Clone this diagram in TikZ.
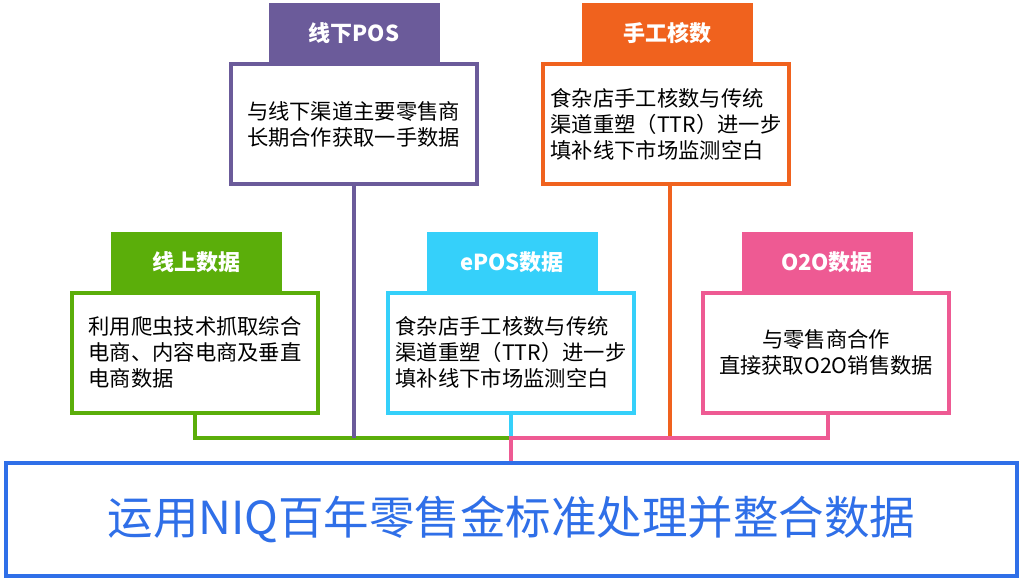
\documentclass[tikz,border=0pt]{standalone}
\usepackage{fontspec}
\setmainfont{Noto Sans CJK SC}
\usetikzlibrary{positioning}
\definecolor{cPurple}{HTML}{6B5B9A}
\definecolor{cOrange}{HTML}{F0621E}
\definecolor{cGreen}{HTML}{5BAE0A}
\definecolor{cCyan}{HTML}{35D0FA}
\definecolor{cPink}{HTML}{EE5A93}
\definecolor{cBlue}{HTML}{2F6FE8}
\begin{document}
\begin{tikzpicture}[x=1pt,y=-1pt,line width=4pt]
      \tikzstyle{head}=[minimum width=171pt,minimum height=60pt,inner sep=0pt,text=white,font=\fontsize{22}{26}\selectfont\bfseries];
      \tikzstyle{card}=[draw,fill=white,minimum width=246pt,minimum height=120pt,inner sep=0pt,align=left,font=\fontsize{21.3}{26}\selectfont];
      \useasboundingbox[fill=white] (0,0) rectangle (1023,582);
      % connectors
      \coordinate (join) at (511,438);
      \draw[cGreen] (195,413)--(195,438)--(join);
      \draw[cPurple] (354,185)--(354,438);
      \draw[cCyan] (511,413)--(join);
      \draw[cOrange] (670,185)--(670,438);
      \draw[cPink] (828,413)--(828,438)--(join)--(511,462);
      % top row
      \node[card,draw=cPurple,align=center] (posBox) at (353.5,124) {与线下渠道主要零售商\\长期合作获取一手数据};
      \node[head,fill=cPurple] (posHead) at (354,33) {线下POS};
      \node[card,draw=cOrange] (manBox) at (666,124) {食杂店手工核数与传统\\渠道重塑（TTR）进一步\\填补线下市场监测空白};
      \node[head,fill=cOrange] (manHead) at (667,33) {手工核数};
      % middle row
      \node[card,draw=cGreen] (webBox) at (195,352.5) {利用爬虫技术抓取综合\\电商、内容电商及垂直\\电商数据};
      \node[head,fill=cGreen] (webHead) at (196,262) {线上数据};
      \node[card,draw=cCyan] (eposBox) at (511,352.5) {食杂店手工核数与传统\\渠道重塑（TTR）进一步\\填补线下市场监测空白};
      \node[head,fill=cCyan] (eposHead) at (512,262) {ePOS数据};
      \node[card,draw=cPink,align=center] (otoBox) at (826,352.5) {与零售商合作\\直接获取O2O销售数据};
      \node[head,fill=cPink] (otoHead) at (827,262) {O2O数据};
      % bottom
      \node[draw=cBlue,minimum width=1011pt,minimum height=113pt,text=cBlue,font=\fontsize{45.5}{50}\selectfont] (base) at (511.5,519.5) {运用NIQ百年零售金标准处理并整合数据};
\end{tikzpicture}
\end{document}
